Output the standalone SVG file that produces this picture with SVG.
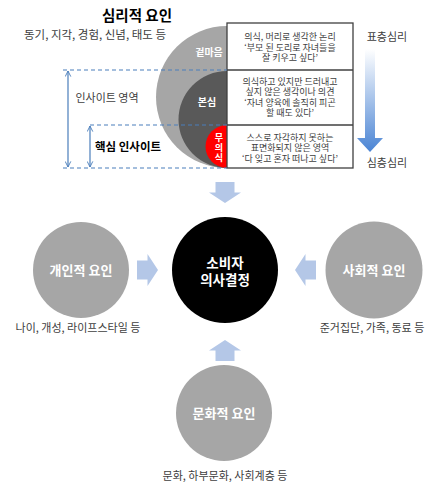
<svg xmlns="http://www.w3.org/2000/svg" width="443" height="489" viewBox="0 0 443 489">
<style>
text{font-family:"Noto Sans CJK KR","Noto Sans",sans-serif;}
.cap{font-size:11px;fill:#404040;text-anchor:middle;}
.box{font-size:9px;fill:#404040;text-anchor:middle;}
.wl{fill:#fff;font-weight:bold;text-anchor:middle;}
.dash{stroke:#4a7ebb;stroke-width:1.2;stroke-dasharray:4,3;fill:none;}
.dbl{stroke:#4a7ebb;stroke-width:1.2;fill:none;}
.blk{fill:#b4c7e7;}
</style>
<defs>
<clipPath id="half"><rect x="0" y="0" width="227" height="168"/></clipPath>
<linearGradient id="grad" x1="0" y1="0" x2="0" y2="1">
<stop offset="0" stop-color="#ffffff"/>
<stop offset="1" stop-color="#4a84d4"/>
</linearGradient>
<path id="blockArrow" d="M-9.5,-10.5 H9.5 V0 H16 L0,10.5 L-16,0 H-9.5 Z"/>
<marker id="chev" viewBox="0 0 10 10" refX="9" refY="5" markerWidth="7" markerHeight="7" orient="auto-start-reverse" markerUnits="userSpaceOnUse">
<path d="M1,1 L9,5 L1,9" fill="none" stroke="#4a7ebb" stroke-width="1.3"/>
</marker>
</defs>
<rect width="443" height="489" fill="#fff"/>

<g id="psych-title">
<text x="137" y="21" text-anchor="middle" font-size="14.5" font-weight="bold" fill="#000">심리적 요인</text>
<text x="95" y="39" text-anchor="middle" font-size="11.5" fill="#404040">동기, 지각, 경험, 신념, 태도 등</text>
</g>

<g id="psych-circles" clip-path="url(#half)">
<circle cx="227" cy="97" r="71" fill="#a6a6a6"/>
<circle cx="227" cy="119.5" r="48.5" fill="#595959"/>
<circle cx="227" cy="146.5" r="21.5" fill="#ff0000"/>
</g>
<g id="circle-labels">
<text class="wl" x="209" y="55.5" font-size="10">겉마음</text>
<text class="wl" x="207" y="106" font-size="10">본심</text>
<text class="wl" x="219" y="148" font-size="9" writing-mode="vertical-rl" letter-spacing="1">무의식</text>
</g>

<g id="layer-boxes">
<rect x="227" y="23" width="126" height="145" fill="none" stroke="#404040" stroke-width="1.3"/>
<line x1="227" y1="70" x2="353" y2="70" stroke="#404040" stroke-width="1.3"/>
<line x1="227" y1="125" x2="353" y2="125" stroke="#404040" stroke-width="1.3"/>
<text class="box" x="290" y="40"><tspan x="290">의식, 머리로 생각한 논리</tspan><tspan x="290" dy="10.5">‘부모 된 도리로 자녀들을</tspan><tspan x="290" dy="10.5">잘 키우고 싶다’</tspan></text>
<text class="box" x="290" y="84.5"><tspan x="290">의식하고 있지만 드러내고</tspan><tspan x="290" dy="10.5">싶지 않은 생각이나 의견</tspan><tspan x="290" dy="10.5">‘자녀 양육에 솔직히 피곤</tspan><tspan x="290" dy="10.8">할 때도 있다’</tspan></text>
<text class="box" x="290" y="140.5"><tspan x="290">스스로 자각하지 못하는</tspan><tspan x="290" dy="10.5">표면화되지 않은 영역</tspan><tspan x="290" dy="10.5">‘다 잊고 혼자 떠나고 싶다’</tspan></text>
</g>

<g id="depth-scale">
<text x="387" y="41" text-anchor="middle" font-size="11" fill="#404040">표층심리</text>
<path d="M365,49 H375 V138 H383 L370,152 L357,138 H365 Z" fill="url(#grad)"/>
<text x="387" y="167" text-anchor="middle" font-size="11" fill="#404040">심층심리</text>
</g>

<g id="insight-guides">
<line class="dash" x1="63" y1="70" x2="227" y2="70"/>
<line class="dash" x1="90" y1="125" x2="227" y2="125"/>
<line class="dash" x1="63" y1="168" x2="227" y2="168"/>
<line class="dbl" x1="68" y1="71" x2="68" y2="167" marker-start="url(#chev)" marker-end="url(#chev)"/>
<line class="dbl" x1="90" y1="126" x2="90" y2="167" marker-start="url(#chev)" marker-end="url(#chev)"/>
<text x="107" y="102" text-anchor="middle" font-size="11" fill="#404040">인사이트 영역</text>
<text x="128" y="151" text-anchor="middle" font-size="11.5" font-weight="bold" fill="#000">핵심 인사이트</text>
</g>

<g id="consumer-decision">
<circle cx="225" cy="270" r="53" fill="#000"/>
<text class="wl" x="225" y="268" font-size="13.5"><tspan x="225">소비자</tspan><tspan x="225" dy="17">의사결정</tspan></text>
</g>

<g id="personal-factor">
<circle cx="81" cy="270" r="48" fill="#a6a6a6"/>
<text class="wl" x="81" y="275" font-size="13">개인적 요인</text>
<text class="cap" x="78" y="332">나이, 개성, 라이프스타일 등</text>
</g>

<g id="social-factor">
<circle cx="374" cy="270" r="48.5" fill="#a6a6a6"/>
<text class="wl" x="374" y="275" font-size="13">사회적 요인</text>
<text class="cap" x="372" y="332">준거집단, 가족, 동료 등</text>
</g>

<g id="cultural-factor">
<circle cx="224" cy="413" r="48" fill="#a6a6a6"/>
<text class="wl" x="224" y="418" font-size="13">문화적 요인</text>
<text class="cap" x="225" y="480">문화, 하부문화, 사회계층 등</text>
</g>

<g id="connectors">
<use href="#blockArrow" class="blk" transform="translate(225,192.5)"/>
<use href="#blockArrow" class="blk" transform="translate(225,350.5) rotate(180)"/>
<use href="#blockArrow" class="blk" transform="translate(147.5,270) rotate(-90)"/>
<use href="#blockArrow" class="blk" transform="translate(305.5,270) rotate(90)"/>
</g>
</svg>
